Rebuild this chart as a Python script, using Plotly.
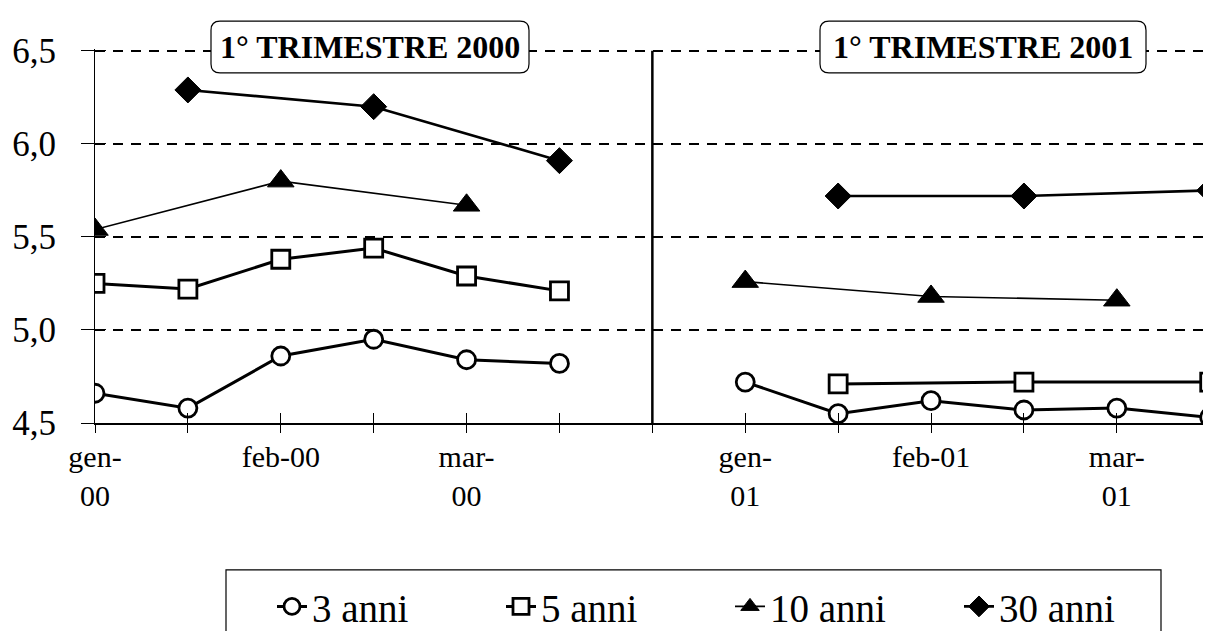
import plotly.graph_objects as go

# ---------------- data ----------------
positions = list(range(13))  # half-month slots; slot 6 is the gap between the two quarters
tick_text = ["gen-<br>00", "", "feb-00", "", "mar-<br>00", "", "",
             "gen-<br>01", "", "feb-01", "", "mar-<br>01", ""]
panel_2000 = [0, 1, 2, 3, 4, 5]
panel_2001 = [7, 8, 9, 10, 11, 12]
divider_pos = 6

series_names = ["3 anni", "5 anni", "10 anni", "30 anni"]
anni_3 = [4.66, 4.58, 4.86, 4.95, 4.84, 4.82, None, 4.72, 4.55, 4.62, 4.57, 4.58, 4.53]
anni_5 = [5.25, 5.22, 5.38, 5.44, 5.29, 5.21, None, None, 4.71, None, 4.72, None, 4.72]
anni_10 = [5.54, None, 5.80, None, 5.67, None, None, 5.26, None, 5.18, None, 5.16, None]
anni_30 = [None, 6.29, None, 6.20, None, 5.91, None, None, 5.72, None, 5.72, None, 5.75]

y_ticks = [4.5, 5.0, 5.5, 6.0, 6.5]
panel_titles = ["1° TRIMESTRE 2000", "1° TRIMESTRE 2001"]

# ---------------- layout constants ----------------
W, H = 1211, 631
ML, MR, MT, MB = 87, 0, 41, 213
FONT = "Liberation Serif"


def px_x(p):
    return (p - ML) / (W - ML - MR)


def px_y(p):
    return (H - MB - p) / (H - MT - MB)


styles = {
    "3 anni": dict(symbol="circle", size=18, fill="white", mline=2.8, lwidth=3),
    "5 anni": dict(symbol="square", size=18, fill="white", mline=2.8, lwidth=3),
    "10 anni": dict(symbol="triangle-up", size=23, fill="black", mline=1, lwidth=1.6),
    "30 anni": dict(symbol="diamond", size=20, fill="black", mline=1, lwidth=2.6),
}
values = {"3 anni": anni_3, "5 anni": anni_5, "10 anni": anni_10, "30 anni": anni_30}

fig = go.Figure()
for name in series_names:
    st = styles[name]
    vals = values[name]
    for i, panel in enumerate([panel_2000, panel_2001]):
        xs = [p for p in panel if vals[p] is not None]
        ys = [vals[p] for p in xs]
        fig.add_trace(go.Scatter(
            x=xs, y=ys, mode="lines+markers", name=name,
            legendgroup=name, showlegend=(i == 0),
            line=dict(color="black", width=st["lwidth"]),
            marker=dict(symbol=st["symbol"], size=st["size"], color=st["fill"],
                        line=dict(color="black", width=st["mline"])),
            hoverinfo="skip",
        ))

# dummy trace for overlay axes (outer/inner halves of crossing tick marks)
fig.add_trace(go.Scatter(x=[None], y=[None], xaxis="x2", yaxis="y2",
                         showlegend=False, hoverinfo="skip"))

x_range = [0, 12.1]
y_range = [4.5, 6.51]

fig.update_layout(
    template="none",
    width=W, height=H,
    margin=dict(l=ML, r=MR, t=MT, b=MB, pad=0),
    paper_bgcolor="white", plot_bgcolor="white",
    separators=",.",
    font=dict(family=FONT, color="black"),
    showlegend=True,
    legend=dict(
        orientation="h", x=px_x(264), xanchor="left", y=px_y(603), yanchor="middle",
        font=dict(family=FONT, size=39, color="black"),
        bgcolor="rgba(0,0,0,0)", borderwidth=0,
        entrywidth=184, entrywidthmode="pixels",
        itemclick=False, itemdoubleclick=False,
    ),
    xaxis=dict(
        range=x_range, tickmode="array", tickvals=positions, ticktext=tick_text,
        ticks="inside", ticklen=10, tickwidth=1.2, tickcolor="black",
        showline=True, linecolor="black", linewidth=2,
        showgrid=False, zeroline=False, automargin=False,
        tickfont=dict(family=FONT, size=30, color="black"),
        ticklabelstandoff=6,
    ),
    yaxis=dict(
        range=y_range, tickmode="array", tickvals=y_ticks, tickformat=".1f",
        ticks="outside", ticklen=13, tickwidth=1.2, tickcolor="black",
        showline=True, linecolor="black", linewidth=1,
        showgrid=True, gridcolor="black", gridwidth=1.8, griddash="10px,8px",
        zeroline=False, automargin=False,
        tickfont=dict(family=FONT, size=35, color="black"),
        ticklabelstandoff=18,
    ),
    xaxis2=dict(
        overlaying="x", matches="x", anchor="y", side="bottom",
        tickmode="array", tickvals=positions, showticklabels=False,
        ticks="outside", ticklen=9, tickwidth=1.2, tickcolor="black",
        showline=False, showgrid=False, zeroline=False, automargin=False,
    ),
    yaxis2=dict(
        overlaying="y", matches="y", anchor="x", side="left",
        tickmode="array", tickvals=y_ticks, showticklabels=False,
        ticks="inside", ticklen=11, tickwidth=1.2, tickcolor="black",
        showline=False, showgrid=False, zeroline=False, automargin=False,
    ),
)

# divider between the two quarters
fig.add_shape(type="line", xref="x", yref="y", x0=divider_pos, x1=divider_pos,
              y0=y_range[0], y1=y_ticks[-1], line=dict(color="black", width=2.5))

# legend frame (bottom edge falls outside the picture)
fig.add_shape(type="rect", xref="paper", yref="paper",
              x0=px_x(218), x1=px_x(1153), y0=px_y(566), y1=px_y(660),
              line=dict(color="black", width=1.2), fillcolor="rgba(0,0,0,0)")


def rounded_box(x0, y0, x1, y1, r):
    X = lambda p: px_x(p)
    Y = lambda p: px_y(p)
    return (f"M {X(x0 + r)},{Y(y0)} L {X(x1 - r)},{Y(y0)} "
            f"Q {X(x1)},{Y(y0)} {X(x1)},{Y(y0 + r)} L {X(x1)},{Y(y1 - r)} "
            f"Q {X(x1)},{Y(y1)} {X(x1 - r)},{Y(y1)} L {X(x0 + r)},{Y(y1)} "
            f"Q {X(x0)},{Y(y1)} {X(x0)},{Y(y1 - r)} L {X(x0)},{Y(y0 + r)} "
            f"Q {X(x0)},{Y(y0)} {X(x0 + r)},{Y(y0)} Z")


title_boxes = [(203, 13, 521, 65), (812, 13, 1138, 65)]
for title, (bx0, by0, bx1, by1) in zip(panel_titles, title_boxes):
    fig.add_shape(type="path", xref="paper", yref="paper",
                  path=rounded_box(bx0, by0, bx1, by1, 9),
                  fillcolor="white", line=dict(color="black", width=1.2), layer="above")
    fig.add_annotation(xref="paper", yref="paper",
                       x=px_x((bx0 + bx1) / 2), y=px_y((by0 + by1) / 2),
                       text=f"<b>{title}</b>", showarrow=False,
                       font=dict(family=FONT, size=32, color="black"),
                       xanchor="center", yanchor="middle")

fig.write_html("out.html")
